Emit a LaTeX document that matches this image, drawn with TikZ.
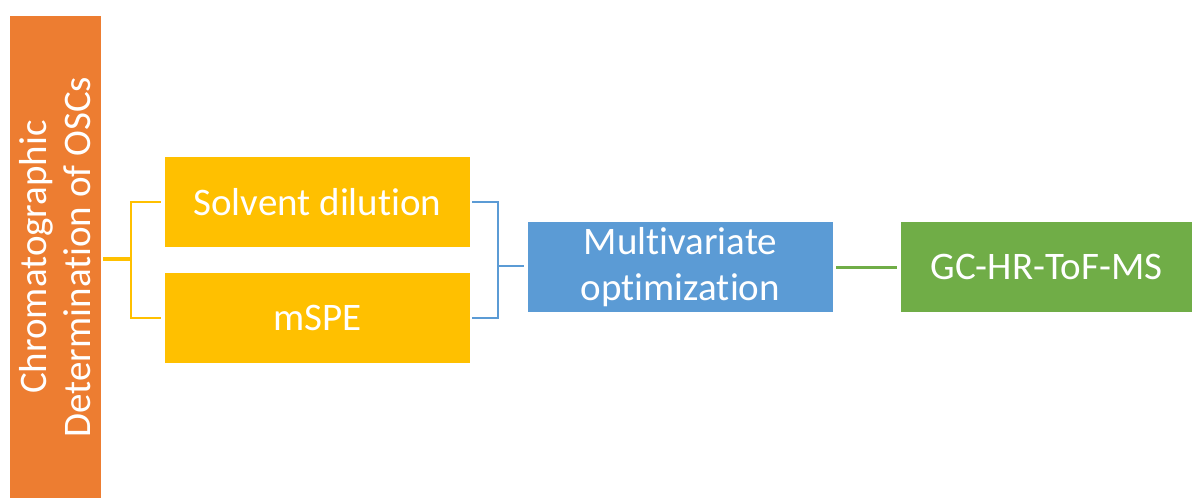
\documentclass[tikz,border=0pt]{standalone}
\usepackage{fontspec}
\setmainfont{Carlito}[RawFeature={-liga}]
\definecolor{corange}{HTML}{ED7D31}
\definecolor{cyellow}{HTML}{FFC000}
\definecolor{cblue}{HTML}{5B9BD5}
\definecolor{cgreen}{HTML}{70AD47}
\begin{document}
\begin{tikzpicture}[x=1pt,y=-1pt,
  box/.style={draw=none,minimum width=305pt,minimum height=90pt,inner sep=0pt,text=white,align=center,font=\fontsize{39}{46}\selectfont},
  ybr/.style={draw=cyellow,line width=2.2pt},
  bbr/.style={draw=cblue,line width=2.5pt},
  gln/.style={draw=cgreen,line width=3pt}]
\useasboundingbox (0,0) rectangle (1192,498);
\node[box,fill=corange,minimum width=91pt,minimum height=482pt] (main) at (55.5,257) {};
\node[text=white,align=center,rotate=90,font=\fontsize{39}{44}\selectfont] (maint) at (main.center) {Chromatographic\\Determination of OSCs};
\node[box,fill=cyellow] (s1) at (317.5,202) {Solvent dilution};
\node[box,fill=cyellow] (s2) at (317.5,318) {mSPE};
\node[box,fill=cblue] (mv) at (680.5,267) {Multivariate\\optimization};
\node[box,fill=cgreen,minimum width=291pt] (gc) at (1046.5,267) {GC-HR-ToF-MS};
\coordinate (yj) at (131,259);
\coordinate (bj) at (498,266);
\draw[ybr] ([xshift=-4pt]s1.west) -| (yj) |- ([xshift=-4pt]s2.west);
\draw[draw=cyellow,line width=4pt] ([xshift=2pt]main.east |- yj) -- ([xshift=1pt]yj);
\draw[bbr] ([xshift=2pt]s1.east) -| (bj) |- ([xshift=2pt]s2.east);
\draw[bbr] (bj) -- ([xshift=-4pt]mv.west |- bj);
\draw[gln] ([xshift=3pt]mv.east) -- ([xshift=-4pt]gc.west);
\end{tikzpicture}
\end{document}
